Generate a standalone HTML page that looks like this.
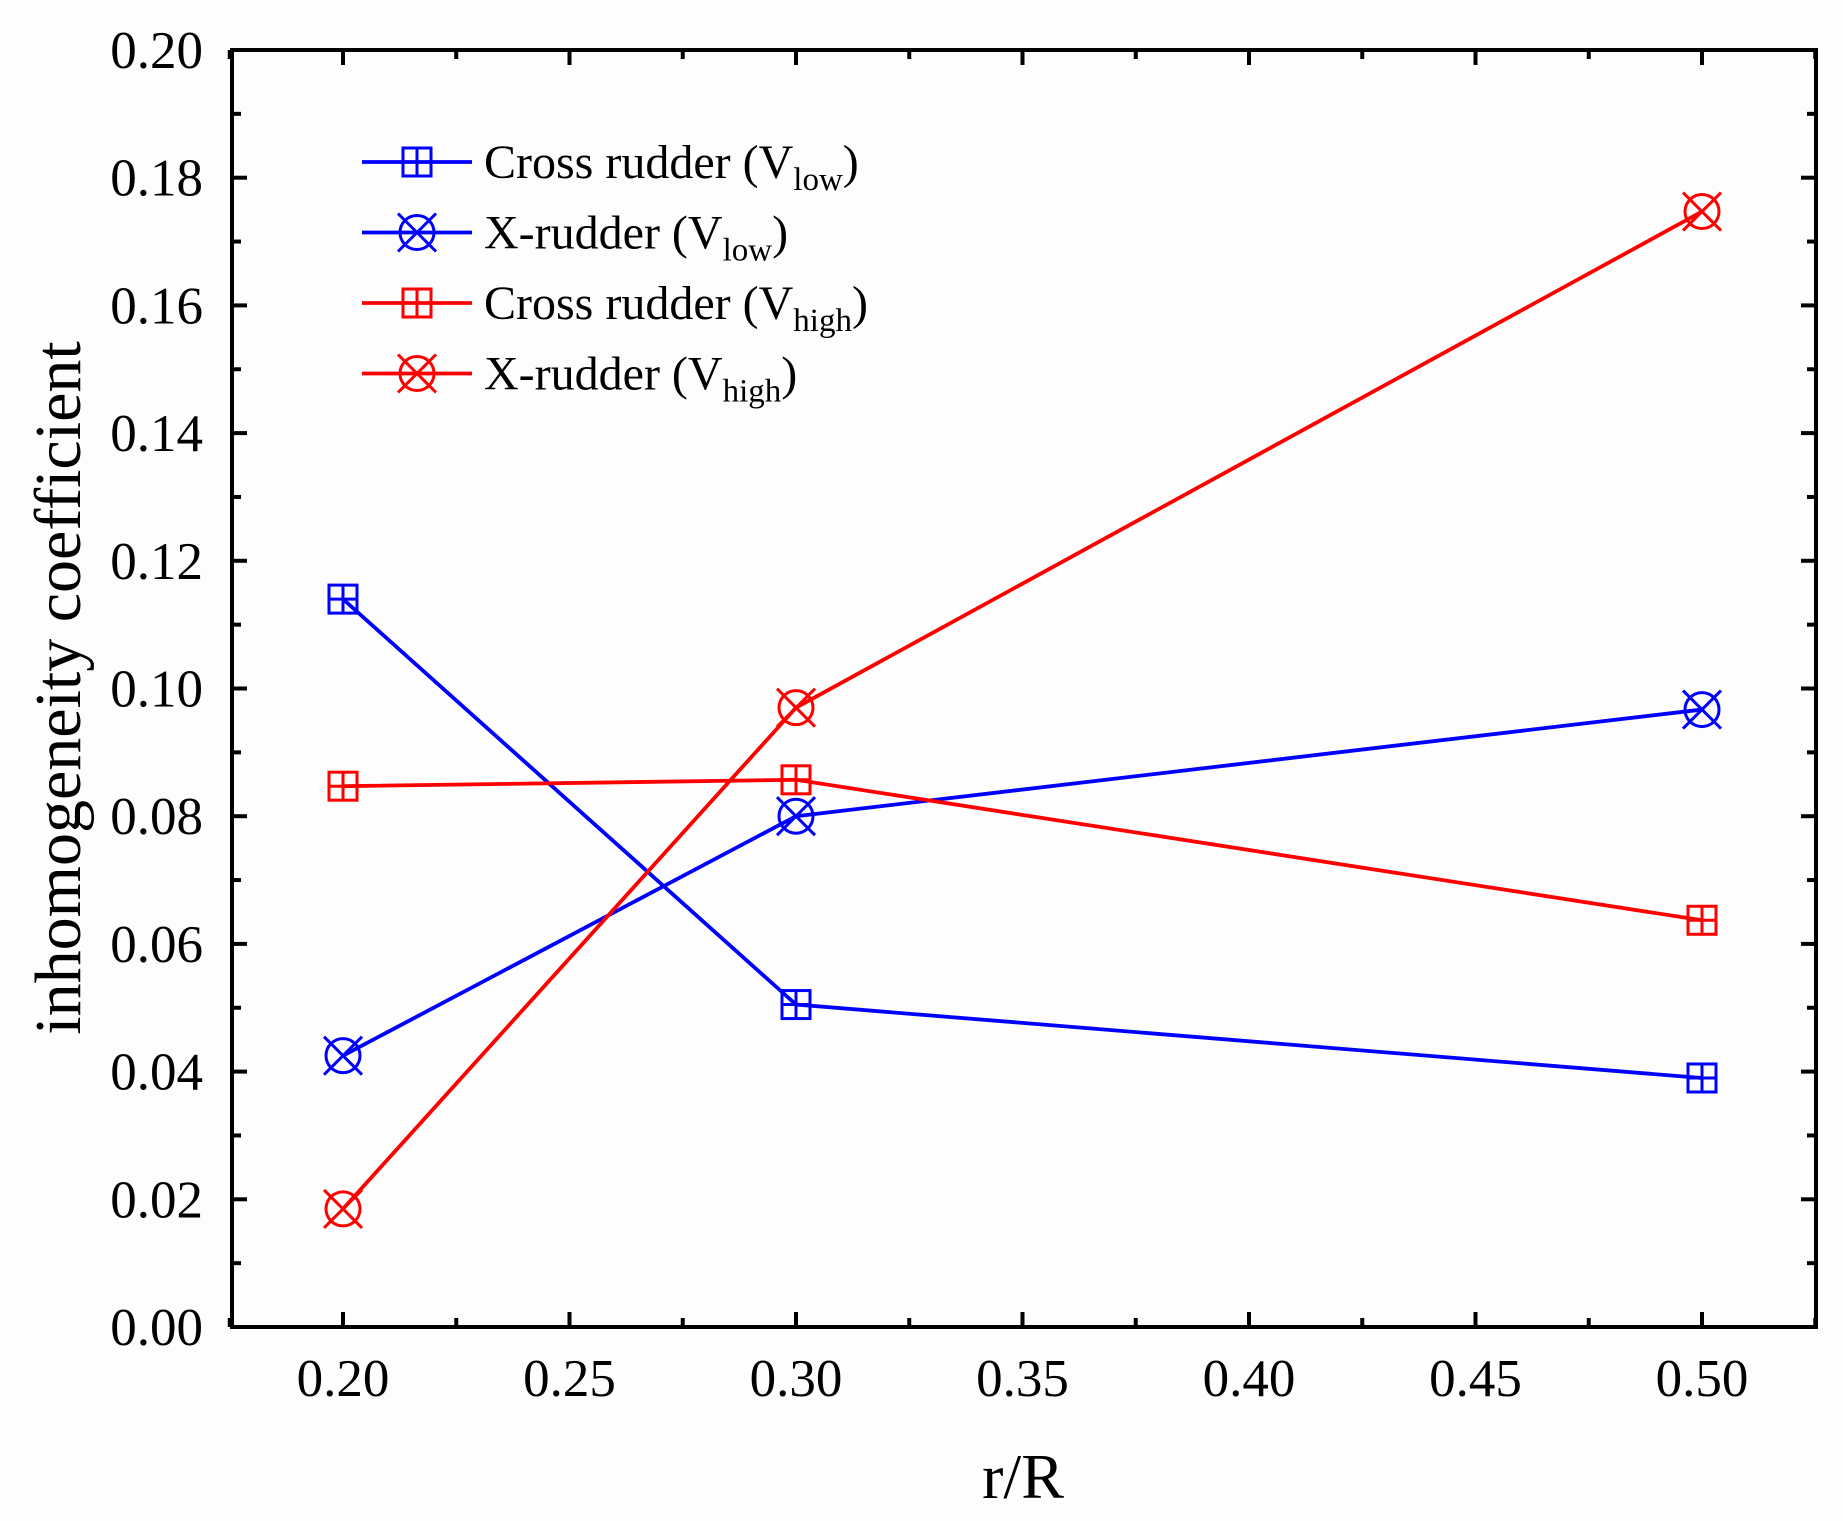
<!DOCTYPE html>
<html><head><meta charset="utf-8"><style>
html,body{margin:0;padding:0;background:#fdfdfd;}
svg{display:block;font-family:"Liberation Serif",serif;}
</style></head><body>
<svg id="chart" width="1843" height="1521" viewBox="0 0 1843 1521"></svg>
<script>
const xValues = [0.20, 0.30, 0.50];
const crossLow = [0.114, 0.0505, 0.039];
const xLow = [0.0425, 0.080, 0.0967];
const crossHigh = [0.0847, 0.0857, 0.0637];
const xHigh = [0.0185, 0.097, 0.1747];
const xTicks = [0.20, 0.25, 0.30, 0.35, 0.40, 0.45, 0.50];
const yTicks = [0, 0.02, 0.04, 0.06, 0.08, 0.10, 0.12, 0.14, 0.16, 0.18, 0.20];
const seriesNames = ["Cross rudder (V", "X-rudder (V", "Cross rudder (V", "X-rudder (V"];
const seriesSubs = ["low", "low", "high", "high"];

const NS = "http://www.w3.org/2000/svg";
const svg = document.getElementById('chart');
const L = 232, R = 1816, T = 50, B = 1327;
const xMin = 0.2 - 111 / 4530, xMax = 0.5 + 114 / 4530;
const X = v => L + (v - xMin) / (xMax - xMin) * (R - L);
const Y = v => B - v / 0.2 * (B - T);
function el(tag, attrs, parent) {
  const e = document.createElementNS(NS, tag);
  for (const k in attrs) e.setAttribute(k, attrs[k]);
  (parent || svg).appendChild(e);
  return e;
}
const tg = el('g', {stroke: '#000', 'stroke-width': 4});


for (let i = 0; i <= 20; i++) {
  const v = i * 0.01, y = Y(v), len = i % 2 === 0 ? 15 : 9;
  el('line', {x1: L, y1: y, x2: L + len, y2: y}, tg);
  el('line', {x1: R, y1: y, x2: R - len, y2: y}, tg);
}
for (let v = 0.175; v <= 0.5251; v += 0.025) {
  const x = X(v), major = Math.abs(Math.round(v * 40) % 2) === 0;
  const len = major ? 15 : 9;
  el('line', {x1: x, y1: B, x2: x, y2: B - len}, tg);
  el('line', {x1: x, y1: T, x2: x, y2: T + len}, tg);
}
const frame = el('rect', {x: L, y: T, width: R - L, height: B - T, fill: 'none', stroke: '#000', 'stroke-width': 4});


yTicks.forEach(v => {
  const t = el('text', {x: 203, y: Y(v) + 18, 'text-anchor': 'end', 'font-size': 53}); t.textContent = v.toFixed(2);
  
  
});
xTicks.forEach(v => {
  const t = el('text', {x: X(v), y: 1396, 'text-anchor': 'middle', 'font-size': 53}); t.textContent = v.toFixed(2);
  
  
});
const xt = el('text', {x: 1023, y: 1498, 'text-anchor': 'middle', 'font-size': 64}); xt.textContent = 'r/R';


const yt = el('text', {x: 0, y: 0, 'text-anchor': 'middle', 'font-size': 66, transform: 'translate(80,688) rotate(-90)'}); yt.textContent = 'inhomogeneity coefficient';



function marker(g, x, y, type, color) {
  if (type === 'sq') {
    el('rect', {x: x - 14, y: y - 14, width: 28, height: 28, fill: 'none', stroke: color, 'stroke-width': 3}, g);
    el('line', {x1: x - 14, y1: y, x2: x + 14, y2: y, stroke: color, 'stroke-width': 3}, g);
    el('line', {x1: x, y1: y - 14, x2: x, y2: y + 14, stroke: color, 'stroke-width': 3}, g);
  } else {
    el('circle', {cx: x, cy: y, r: 17, fill: 'none', stroke: color, 'stroke-width': 3}, g);
    el('line', {x1: x - 19, y1: y - 19, x2: x + 19, y2: y + 19, stroke: color, 'stroke-width': 3}, g);
    el('line', {x1: x - 19, y1: y + 19, x2: x + 19, y2: y - 19, stroke: color, 'stroke-width': 3}, g);
  }
}
const series = [
  {vals: crossLow, type: 'sq', color: '#0000ff', name: 'series-cross-rudder-vlow'},
  {vals: xLow, type: 'xc', color: '#0000ff', name: 'series-x-rudder-vlow'},
  {vals: crossHigh, type: 'sq', color: '#ff0000', name: 'series-cross-rudder-vhigh'},
  {vals: xHigh, type: 'xc', color: '#ff0000', name: 'series-x-rudder-vhigh'}
];
series.forEach((s, i) => {
  const g = el('g', {});
  
  
  const pts = s.vals.map((v, j) => X(xValues[j]) + ',' + Y(v)).join(' ');
  el('polyline', {points: pts, fill: 'none', stroke: s.color, 'stroke-width': 3.8}, g);
  s.vals.forEach((v, j) => marker(g, X(xValues[j]), Y(v), s.type, s.color));
  const ly = 162 + i * 70.5;
  const lg = el('g', {});
  
  
  el('line', {x1: 362, y1: ly, x2: 472, y2: ly, stroke: s.color, 'stroke-width': 3.8}, lg);
  marker(lg, 417, ly, s.type, s.color);
  const t = el('text', {x: 484, y: ly + 16, 'font-size': 48}, lg);
  t.appendChild(document.createTextNode(seriesNames[i]));
  const sub = el('tspan', {'font-size': 33, dy: 12}, t); sub.textContent = seriesSubs[i];
  const cl = el('tspan', {'font-size': 48, dy: -12}, t); cl.textContent = ')';
});
</script>
</body></html>
